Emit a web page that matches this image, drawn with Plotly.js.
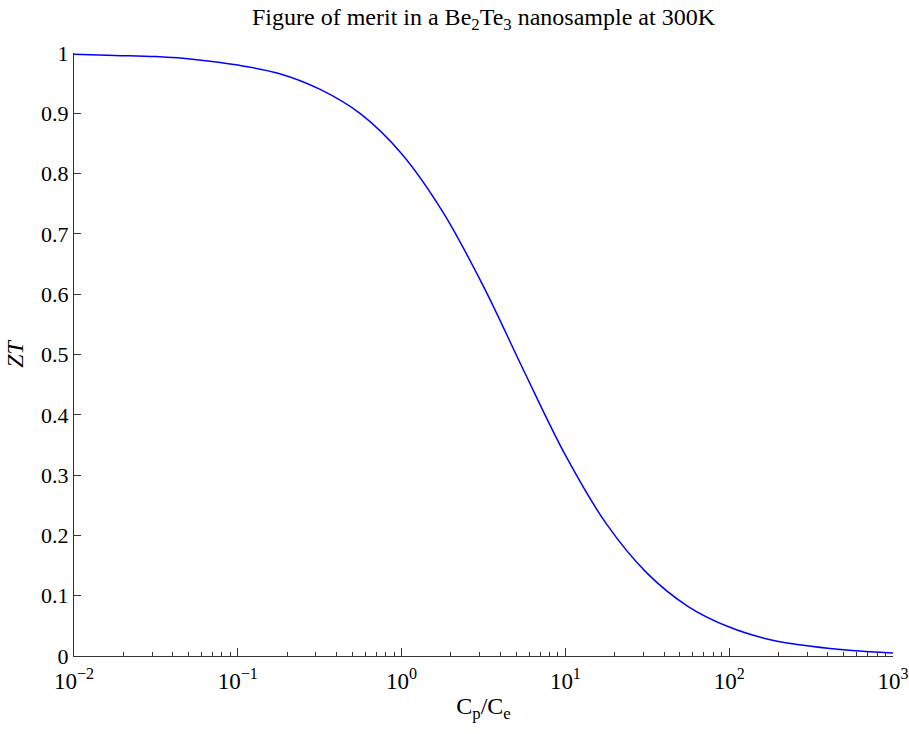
<!DOCTYPE html>
<html>
<head>
<meta charset="utf-8">
<script src="https://cdn.plot.ly/plotly-3.0.1.min.js"></script>
<style>html,body{margin:0;padding:0;background:#fff;}#chart{width:909px;height:734px;}</style>
</head>
<body>
<div id="chart"></div>
<script>
// Cp/Ce ratio (x) and figure of merit ZT (y)
const ratioCpCe = [0.01, 0.0178, 0.0316, 0.0562, 0.1, 0.178, 0.316, 0.562, 1, 1.78, 3.16, 5.62, 10, 17.8, 31.6, 56.2, 100, 178, 316, 562, 1000];
const zt = [0.998, 0.996, 0.994, 0.989, 0.980, 0.966, 0.940, 0.899, 0.833, 0.737, 0.613, 0.471, 0.333, 0.219, 0.137, 0.082, 0.048, 0.027, 0.016, 0.009, 0.005];
const xTickVals = [0.01, 0.1, 1, 10, 100, 1000];
const xTickText = ['10<sup>\u22122</sup>', '10<sup>\u22121</sup>', '10<sup>0</sup>', '10<sup>1</sup>', '10<sup>2</sup>', '10<sup>3</sup>'];
const yTickVals = [0, 0.1, 0.2, 0.3, 0.4, 0.5, 0.6, 0.7, 0.8, 0.9, 1];
const yTickText = ['0', '0.1', '0.2', '0.3', '0.4', '0.5', '0.6', '0.7', '0.8', '0.9', '1'];
const titleText = 'Figure of merit in a Be<sub>2</sub>Te<sub>3</sub> nanosample at 300K';
const xTitle = 'C<sub>p</sub>/C<sub>e</sub>';
const yTitle = '<i>ZT</i>';

const fontFam = '"Liberation Serif", "Times New Roman", Times, serif';
const axisColor = '#333333';

const trace = {
  x: ratioCpCe,
  y: zt,
  type: 'scatter',
  mode: 'lines',
  line: {color: '#0000ff', width: 1.5, shape: 'spline', smoothing: 1},
  hoverinfo: 'none',
  cliponaxis: false
};

const layout = {
  width: 909,
  height: 734,
  margin: {l: 74, r: 16, t: 53, b: 78},
  paper_bgcolor: '#ffffff',
  plot_bgcolor: '#ffffff',
  showlegend: false,
  font: {family: fontFam, color: '#000000', size: 22},
  title: {
    text: titleText,
    font: {family: fontFam, size: 24, color: '#000000'},
    x: 0.5, xref: 'paper',
    y: 1 - 17 / 734, yref: 'container', yanchor: 'middle'
  },
  xaxis: {
    type: 'log',
    range: [-2, 3],
    tickmode: 'array',
    tickvals: xTickVals,
    ticktext: xTickText,
    showgrid: false,
    zeroline: false,
    showline: true,
    linecolor: axisColor,
    linewidth: 1,
    ticks: 'inside',
    ticklen: 8,
    tickcolor: axisColor,
    ticklabelstandoff: 4,
    tickfont: {family: fontFam, size: 23, color: '#000000'},
    minor: {ticks: 'inside', ticklen: 4, tickcolor: axisColor, dtick: 'D1', showgrid: false},
    title: {text: xTitle, font: {family: fontFam, size: 24, color: '#000000'}, standoff: 4},
    mirror: false
  },
  yaxis: {
    range: [0, 1],
    tickmode: 'array',
    tickvals: yTickVals,
    ticktext: yTickText,
    showgrid: false,
    zeroline: false,
    showline: true,
    linecolor: axisColor,
    linewidth: 1,
    ticks: 'inside',
    ticklen: 7,
    tickcolor: axisColor,
    tickfont: {family: fontFam, size: 22, color: '#000000'},
    title: {text: yTitle, font: {family: fontFam, size: 24, color: '#000000'}, standoff: 10},
    mirror: false
  }
};

Plotly.newPlot('chart', [trace], layout, {displayModeBar: false, staticPlot: true});
</script>
</body>
</html>
